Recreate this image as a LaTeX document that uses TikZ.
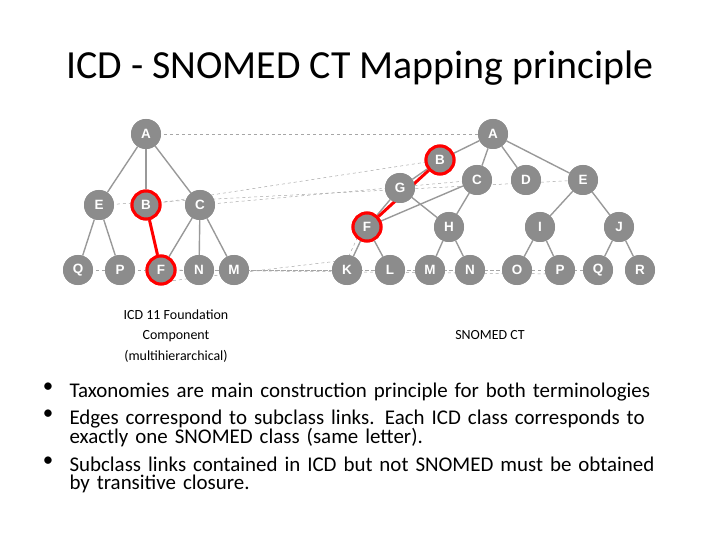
\documentclass[tikz,border=0pt]{standalone}
\usepackage{fontspec}
\setmainfont{Carlito}
\newfontfamily\nodefont{Liberation Sans}
\begin{document}
\begin{tikzpicture}[x=1bp,y=-1bp,
    cls_node/.style={circle,fill=black!45,draw=none,minimum size=30bp,inner sep=0pt,text=white,font=\nodefont\bfseries\fontsize{13.5}{15}\selectfont},
    hit_node/.style={cls_node,draw=red,line width=3bp,minimum size=28bp},
    sub_edge/.style={black!40,line width=1.4bp},
    hit_edge/.style={red,line width=3bp},
    map_edge/.style={black!35,dashed,line width=0.5bp},
    bullet_item/.style={anchor=north west,text width=610bp,font=\raggedright\fontsize{21}{18.5}\selectfont}]
  \useasboundingbox (0,0) rectangle (720,540);
  \node[font=\fontsize{40}{46}\selectfont] (title) at (360,68) {ICD - SNOMED CT Mapping principle};
  % ICD tree
  \node[cls_node] (iA) at (146,134) {A};
  \node[cls_node] (iE) at (99,205) {E};
  \node[hit_node] (iB) at (146,205) {B};
  \node[cls_node] (iC) at (200,205) {C};
  \node[cls_node] (iQ) at (78,270) {Q};
  \node[cls_node] (iP) at (120,270) {P};
  \node[hit_node] (iF) at (161,270) {F};
  \node[cls_node] (iN) at (199,270) {N};
  \node[cls_node] (iM) at (234,270) {M};
  % SNOMED tree
  \node[cls_node] (sA) at (493,134) {A};
  \node[cls_node] (sG) at (400,188) {G};
  \node[hit_node] (sB) at (440,160) {B};
  \node[cls_node] (sC) at (477,180) {C};
  \node[cls_node] (sD) at (526,180) {D};
  \node[cls_node] (sE) at (583,180) {E};
  \node[hit_node] (sF) at (367,227) {F};
  \node[cls_node] (sH) at (449,227) {H};
  \node[cls_node] (sI) at (540,227) {I};
  \node[cls_node] (sJ) at (619,227) {J};
  \foreach \n/\x in {K/347,L/390,M/430,N/470,O/517,P/560,Q/598,R/640}
    \node[cls_node] (s\n) at (\x,270) {\n};
  % mapping lines
  \foreach \n in {A,B,C,E,M,N,P,Q}
    \draw[map_edge] (i\n.center) -- (s\n.center);
  \draw[map_edge] (iF.center) -- ([yshift=-4bp]sP.center);
  \draw[map_edge] ([yshift=-12bp]iF.center) -- ([yshift=10bp]sK.center) -- ([yshift=10bp]sF.center);
  % subclass links
  \foreach \a/\b in {iA/iE,iA/iB,iA/iC,iE/iQ,iE/iP,iC/iF,iC/iN,iC/iM,
      sA/sB,sA/sC,sA/sD,sA/sE,sB/sG,sG/sF,sG/sH,sC/sF,sC/sH,sE/sI,sE/sJ,
      sF/sK,sF/sL,sH/sM,sH/sN,sI/sO,sI/sP,sJ/sQ,sJ/sR}
    \draw[sub_edge] (\a) -- (\b);
  \draw[hit_edge] (iB) -- (iF);
  \draw[hit_edge] (sB) -- (sF);
  % redraw nodes on top
  \foreach \n in {A,E,C,Q,P,N,M}
    \node[cls_node] at (i\n) {\n};
  \foreach \n in {B,F}
    \node[hit_node] at (i\n) {\n};
  \foreach \n in {A,G,C,D,E,H,I,J,K,L,M,N,O,P,Q,R}
    \node[cls_node] at (s\n) {\n};
  \foreach \n in {B,F}
    \node[hit_node] at (s\n) {\n};
  % captions
  \node[align=center,font=\fontsize{14}{20.5}\selectfont] (icdcap) at (176,336) {ICD 11 Foundation\\Component\\(multihierarchical)};
  \node[font=\fontsize{14}{17}\selectfont] (snocap) at (490,335) {SNOMED CT};
  % bullets
  \foreach \y/\t in {379/{Taxonomies are main construction principle for both terminologies},
      406/{Edges correspond to subclass links. Each ICD class corresponds to exactly one SNOMED class (same letter).},
      453/{Subclass links contained in ICD but not SNOMED must be obtained by transitive closure.}}{
    \node[bullet_item] at (66,\y) {\t};
    \node[anchor=north,font=\fontsize{21}{19}\selectfont] at (48,\y) {\textbullet};
  }
\end{tikzpicture}
\end{document}
